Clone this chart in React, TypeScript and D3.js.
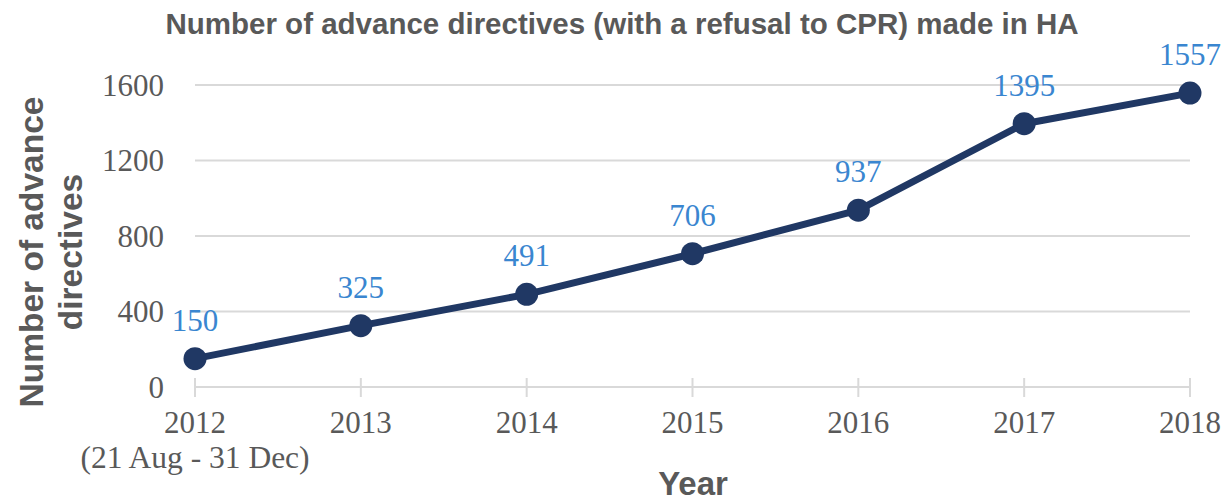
import React from "react";
import * as d3 from "d3";

const years = ["2012", "2013", "2014", "2015", "2016", "2017", "2018"];
const values = [150, 325, 491, 706, 937, 1395, 1557];
const yTicks = [0, 400, 800, 1200, 1600];
const title = "Number of advance directives (with a refusal to CPR) made in HA";
const firstSubLabel = "(21 Aug - 31 Dec)";

export default function App() {
  const W = 1228, H = 502;
  const x = d3.scalePoint<string>().domain(years).range([195, 1190]);
  const y = d3.scaleLinear().domain([0, 1600]).range([387, 85]);
  const line = d3.line<number>().x((_, i) => x(years[i])!).y((d) => y(d));
  const serif = "'Liberation Serif', 'Times New Roman', serif";
  const sans = "'Liberation Sans', Arial, sans-serif";
  return (
    <svg width={W} height={H} style={{ position: "absolute", left: 0, top: 0, background: "#fff" }}>
      <text x={622} y={34} textAnchor="middle" fontFamily={sans} fontWeight="bold" fontSize={29.5} fill="#595959">{title}</text>
      {yTicks.filter((t) => t > 0).map((t) => (
        <line key={t} x1={195} x2={1190} y1={y(t)} y2={y(t)} stroke="#d9d9d9" strokeWidth={2} />
      ))}
      <line x1={195} x2={1190} y1={y(0)} y2={y(0)} stroke="#d9d9d9" strokeWidth={2} />
      {years.map((yr) => (
        <line key={yr} x1={x(yr)} x2={x(yr)} y1={378} y2={397} stroke="#d9d9d9" strokeWidth={2} />
      ))}
      {yTicks.map((t) => (
        <text key={t} x={164} y={y(t)} dy="0.34em" textAnchor="end" fontFamily={serif} fontSize={31} fill="#595959">{t}</text>
      ))}
      {years.map((yr) => (
        <text key={yr} x={x(yr)} y={433} textAnchor="middle" fontFamily={serif} fontSize={31} fill="#595959">{yr}</text>
      ))}
      <text x={x(years[0])} y={468} textAnchor="middle" fontFamily={serif} fontSize={31.5} fill="#595959">{firstSubLabel}</text>
      <path d={line(values) ?? ""} fill="none" stroke="#203864" strokeWidth={7} strokeLinejoin="round" />
      {values.map((v, i) => (
        <circle key={i} cx={x(years[i])} cy={y(v)} r={11.5} fill="#203864" />
      ))}
      {values.map((v, i) => (
        <text key={i} x={x(years[i])} y={y(v) - 28} textAnchor="middle" fontFamily={serif} fontSize={31} fill="#3a86d0">{v}</text>
      ))}
      <text transform={`translate(43,252) rotate(-90)`} textAnchor="middle" fontFamily={sans} fontWeight="bold" fontSize={33.5} fill="#595959">Number of advance</text>
      <text transform={`translate(82,252) rotate(-90)`} textAnchor="middle" fontFamily={sans} fontWeight="bold" fontSize={33.5} fill="#595959">directives</text>
      <text x={693} y={495} textAnchor="middle" fontFamily={sans} fontWeight="bold" fontSize={33} fill="#595959">Year</text>
    </svg>
  );
}
